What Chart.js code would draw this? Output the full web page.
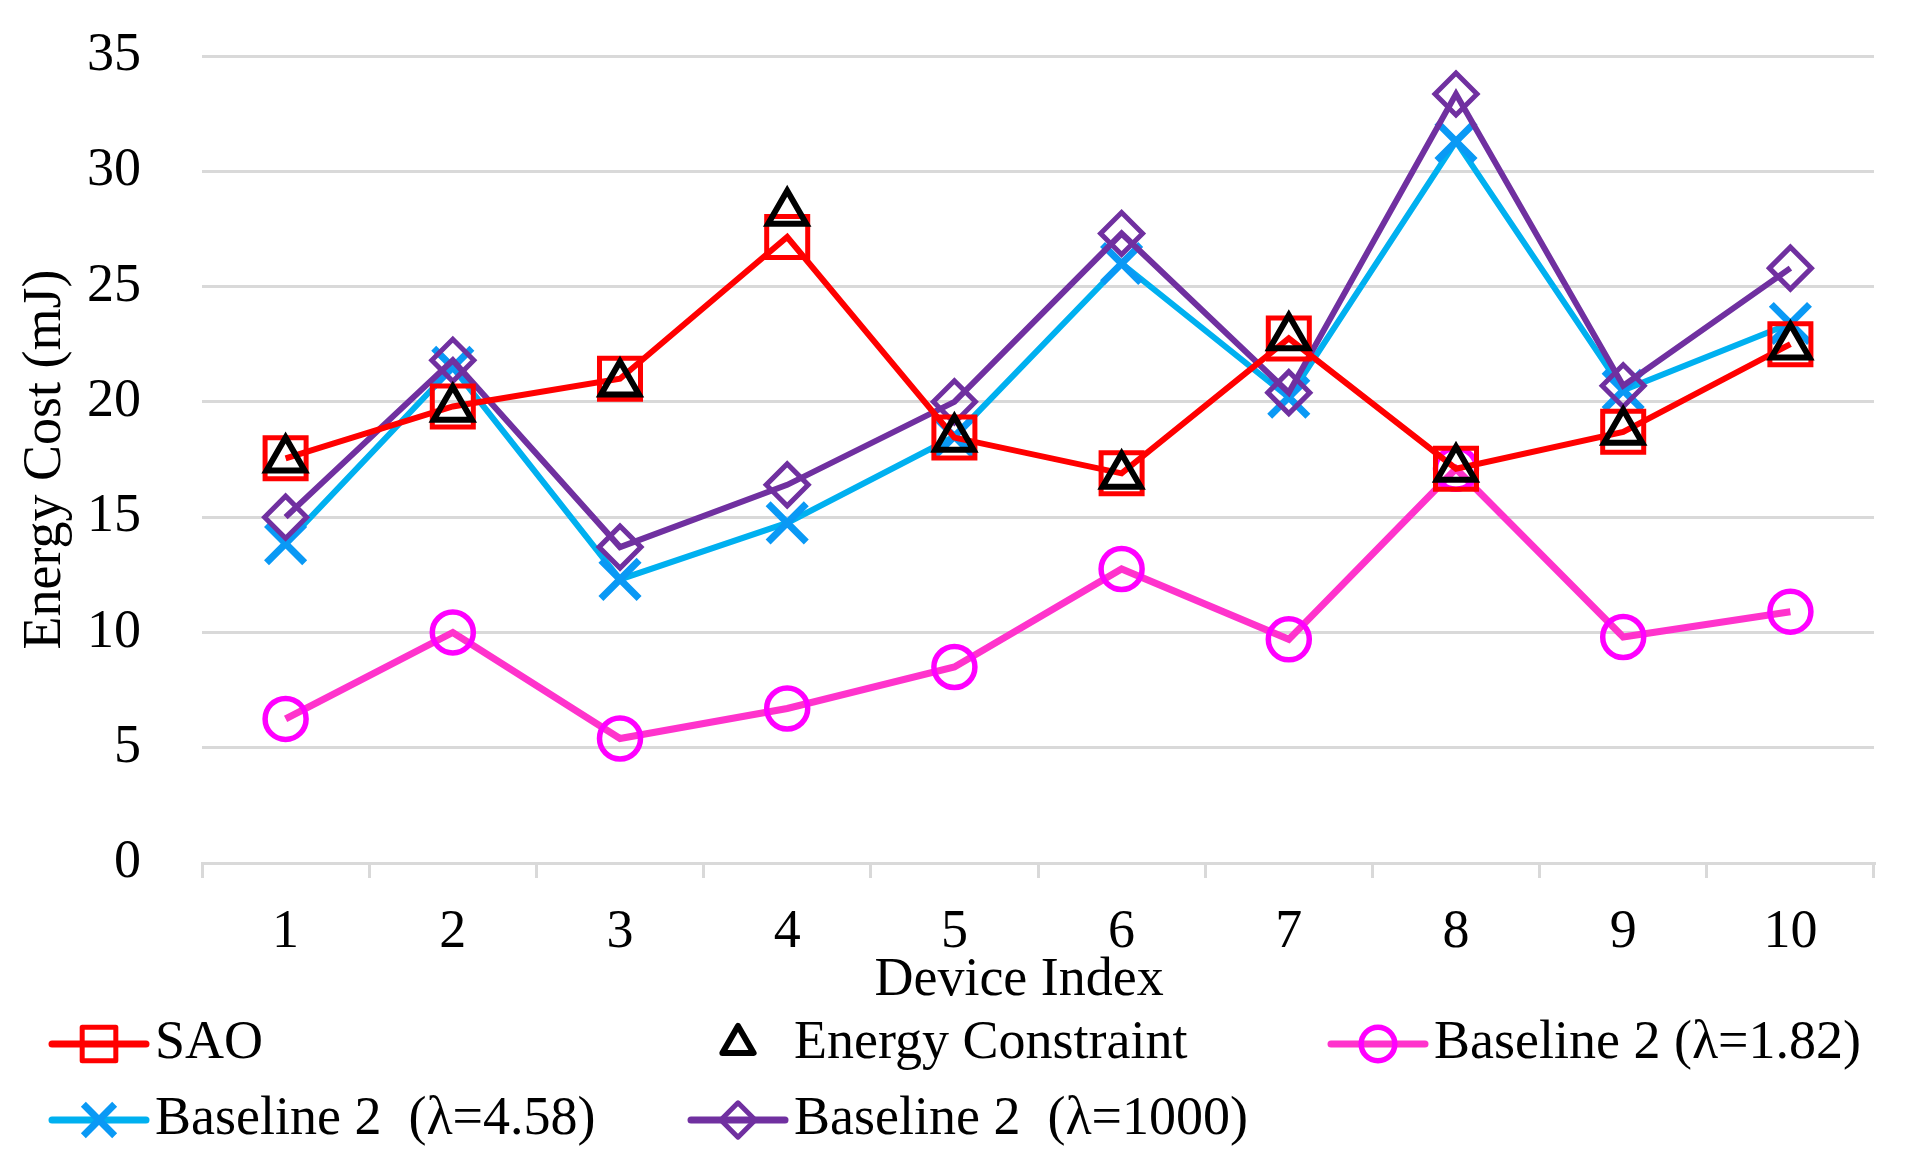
<!DOCTYPE html>
<html>
<head>
<meta charset="utf-8">
<title>Energy Cost per Device</title>
<script src="https://cdn.jsdelivr.net/npm/chart.js@4.4.1/dist/chart.umd.min.js"></script>
<style>
  html, body { margin: 0; padding: 0; background: #fff; }
  #wrap { width: 1925px; height: 1150px; }
</style>
</head>
<body>
<div id="wrap"><canvas id="energyChart" width="1925" height="1150"></canvas></div>
<script>
// Device index on the x axis
const devices = ['1', '2', '3', '4', '5', '6', '7', '8', '9', '10'];

// Energy cost (mJ) per device
const saoCost = [17.55, 19.8, 21.0, 27.15, 18.45, 16.9, 22.75, 17.1, 18.7, 22.5];
const energyConstraint = [17.5, 19.7, 20.8, 28.2, 18.4, 16.8, 22.8, 17.1, 18.7, 22.4];
const baseline182 = [6.25, 10.0, 5.4, 6.7, 8.5, 12.75, 9.7, 17.1, 9.8, 10.9];
const baseline458 = [13.85, 21.5, 12.3, 14.75, 18.5, 26.0, 20.2, 31.3, 20.5, 23.4];
const baseline1000 = [15.0, 21.8, 13.7, 16.4, 20.0, 27.3, 20.4, 33.35, 20.7, 25.8];

// y axis ticks
const yTicks = [0, 5, 10, 15, 20, 25, 30, 35];

const FONT = '"Liberation Serif", "Times New Roman", serif';
const GRID = '#D9D9D9';

Chart.defaults.font.family = FONT;
Chart.defaults.font.size = 54;
Chart.defaults.color = '#000';

// Legend drawn by hand so each key shows line + marker like the original
const keyCols = [52, 691, 1331];
const keyRows = [1044, 1120];
const keyOrder = ['SAO', 'Energy Constraint', 'Baseline 2 (λ=1.82)', 'Baseline 2  (λ=4.58)', 'Baseline 2  (λ=1000)'];

const seriesKey = {
    id: 'seriesKey',
    afterDraw(chart) {
        const ctx = chart.ctx;
        ctx.save();
        ctx.font = '54px ' + FONT;
        ctx.textBaseline = 'middle';
        keyOrder.forEach(function(label, i) {
            const ds = chart.data.datasets.find(d => d.label === label);
            const x0 = keyCols[i % 3];
            const y = keyRows[Math.floor(i / 3)];
            const mid = x0 + 47;
            if (ds.showLine !== false) {
                ctx.beginPath();
                ctx.lineWidth = 7;
                ctx.lineCap = 'round';
                ctx.strokeStyle = ds.borderColor;
                ctx.moveTo(x0, y);
                ctx.lineTo(x0 + 94, y);
                ctx.stroke();
            }
            ctx.lineCap = 'butt';
            ctx.lineJoin = 'round';
            ctx.strokeStyle = ds.pointBorderColor;
            ctx.fillStyle = 'rgba(0,0,0,0)';
            ctx.lineWidth = ds.pointBorderWidth;
            Chart.helpers.drawPoint(ctx, {
                pointStyle: ds.pointStyle,
                radius: ds.pointRadius * 0.82,
                rotation: 0,
                borderWidth: ds.pointBorderWidth
            }, mid, y);
            ctx.fillStyle = '#000';
            ctx.fillText(label, x0 + 103, y);
        });
        ctx.restore();
    }
};

function lineSeries(label, data, lineColor, markColor, style, radius, lineW, markW, order) {
    return {
        label: label,
        data: data,
        borderColor: lineColor,
        borderWidth: lineW,
        pointStyle: style,
        pointRadius: radius,
        pointBorderColor: markColor,
        pointBackgroundColor: 'rgba(0,0,0,0)',
        pointBorderWidth: markW,
        tension: 0,
        order: order
    };
}

const ecSeries = lineSeries('Energy Constraint', energyConstraint, '#000000', '#000000', 'triangle', 22, 0, 6, 0);
ecSeries.showLine = false;

new Chart(document.getElementById('energyChart').getContext('2d'), {
    type: 'line',
    data: {
        labels: devices,
        datasets: [
            lineSeries('SAO', saoCost, '#FF0000', '#FF0000', 'rect', 29, 6, 5, 1),
            ecSeries,
            lineSeries('Baseline 2 (λ=1.82)', baseline182, '#FF33CC', '#FF00FF', 'circle', 20.5, 7, 5.5, 2),
            lineSeries('Baseline 2  (λ=4.58)', baseline458, '#00B0F0', '#0A99F5', 'crossRot', 27, 6, 7, 4),
            lineSeries('Baseline 2  (λ=1000)', baseline1000, '#7030A0', '#7030A0', 'rectRot', 21, 6, 5, 3)
        ]
    },
    options: {
        responsive: false,
        animation: false,
        devicePixelRatio: 1,
        events: [],
        layout: {
            padding: { left: 0, top: 56, right: 51, bottom: 137 }
        },
        plugins: {
            legend: { display: false },
            tooltip: { enabled: false }
        },
        scales: {
            x: {
                offset: true,
                afterFit: function(scale) { scale.height = 150; },
                grid: {
                    offset: true,
                    drawOnChartArea: false,
                    drawTicks: true,
                    tickLength: 15,
                    color: GRID,
                    lineWidth: 3
                },
                border: { display: true, color: GRID, width: 3 },
                ticks: { padding: 22, maxRotation: 0 },
                title: {
                    display: true,
                    text: 'Device Index\u2002\u2009',
                    padding: { top: 0, bottom: 0 }
                }
            },
            y: {
                min: yTicks[0],
                max: yTicks[yTicks.length - 1],
                afterFit: function(scale) {
                    scale.width = 202;
                    // tick padding is horizontal only here; don't let it push the plot down
                    scale.paddingTop = 0;
                    scale.paddingBottom = 0;
                },
                afterBuildTicks: function(scale) {
                    scale.ticks = yTicks.map(v => ({ value: v }));
                },
                grid: { drawTicks: false, color: GRID, lineWidth: 3 },
                border: { display: false },
                ticks: { padding: 61 },
                title: {
                    display: true,
                    text: 'Energy Cost (mJ)',
                    padding: { top: 13, bottom: 0 }
                }
            }
        }
    },
    plugins: [seriesKey]
});
</script>
</body>
</html>
